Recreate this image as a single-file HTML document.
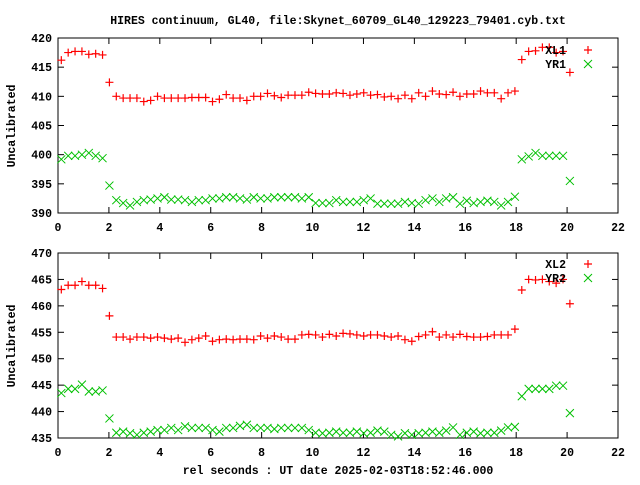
<!DOCTYPE html>
<html><head><meta charset="utf-8"><style>
body{margin:0;background:#fff}
svg text{font-family:"Liberation Mono",monospace;font-weight:bold;font-size:11.5px;fill:#000}
</style></head><body>
<svg id="chart" width="640" height="480" xmlns="http://www.w3.org/2000/svg">
<rect width="640" height="480" fill="#fff"/>
<text x="338" y="24" text-anchor="middle">HIRES continuum, GL40, file:Skynet_60709_GL40_129223_79401.cyb.txt</text>
<text x="338" y="474" text-anchor="middle">rel seconds : UT date 2025-02-03T18:52:46.000</text>
<text transform="translate(15,126) rotate(-90)" text-anchor="middle">Uncalibrated</text>
<text transform="translate(15,346) rotate(-90)" text-anchor="middle">Uncalibrated</text>
<g id="g"></g>
</svg>
<script>
const xTicks=[0,2,4,6,8,10,12,14,16,18,20,22];
const topTicks=[390,395,400,405,410,415,420];
const botTicks=[435,440,445,450,455,460,465,470];
const xl1=[416.2,417.5,417.7,417.7,417.2,417.3,417.1,412.4,410.0,409.7,409.7,409.7,409.1,409.3,410.0,409.7,409.7,409.7,409.7,409.8,409.8,409.8,409.1,409.5,410.3,409.7,409.7,409.3,410.0,410.0,410.5,410.1,409.8,410.2,410.2,410.2,410.7,410.5,410.4,410.4,410.6,410.5,410.2,410.4,410.6,410.2,410.3,409.9,410.0,409.6,410.2,409.6,410.6,410.0,410.9,410.4,410.3,410.7,410.0,410.4,410.4,410.9,410.6,410.6,409.6,410.6,410.9,416.3,417.7,417.8,418.4,418.4,417.5,417.7,414.1];
const yr1=[399.2,399.8,399.8,400.0,400.3,399.8,399.4,394.7,392.2,391.7,391.3,391.9,392.2,392.3,392.5,392.7,392.3,392.3,392.2,391.9,392.2,392.2,392.5,392.5,392.7,392.7,392.5,392.3,392.7,392.5,392.5,392.7,392.7,392.7,392.7,392.5,392.7,391.7,391.7,391.7,392.2,391.9,391.9,391.9,392.2,392.5,391.6,391.6,391.6,391.6,391.9,391.7,391.6,392.2,392.5,391.9,392.5,392.7,391.6,392.1,391.7,391.9,392.1,391.9,391.3,391.9,392.8,399.2,399.7,400.3,399.8,399.8,399.8,399.8,395.5];
const xl2=[463.1,463.9,463.9,464.6,463.9,463.9,463.3,458.1,454.1,454.1,453.7,454.1,454.1,453.9,454.1,453.9,453.7,453.9,453.1,453.6,453.9,454.3,453.3,453.6,453.7,453.6,453.7,453.7,453.6,454.3,453.9,454.3,454.1,453.7,453.7,454.5,454.6,454.5,454.1,454.6,454.3,454.8,454.7,454.5,454.3,454.5,454.5,454.3,454.1,454.3,453.6,453.3,454.2,454.5,455.1,454.1,454.5,454.1,454.6,454.2,454.1,454.1,454.2,454.5,454.5,454.5,455.6,463.0,465.0,464.9,465.0,464.6,464.3,465.0,460.4];
const yr2=[443.5,444.3,444.3,445.1,443.8,443.8,444.0,438.7,436.0,436.2,435.9,435.6,436.0,436.2,436.5,436.5,436.9,436.5,437.2,436.9,436.9,436.9,436.5,436.2,436.9,436.9,437.3,437.5,436.9,436.9,436.9,436.7,436.9,436.9,436.9,436.9,436.5,436.0,435.9,436.0,436.2,436.0,436.0,436.2,435.9,436.0,436.4,436.2,435.6,435.3,435.9,435.6,435.9,436.0,436.2,436.0,436.4,437.0,435.6,436.0,436.2,435.9,436.0,436.0,436.4,437.0,437.1,442.9,444.3,444.3,444.3,444.3,444.9,444.9,439.7];
const NS='http://www.w3.org/2000/svg';
const g=document.getElementById('g');
const L=58,R=618;
function xs(v){return L+(v/22)*(R-L);}
function xv(i){return 0.13+0.27*i;}
function mk(tag,attrs,parent){const e=document.createElementNS(NS,tag);for(const k in attrs)e.setAttribute(k,attrs[k]);(parent||g).appendChild(e);return e;}
function panel(T,B,y0,y1,ticks,s1,s2,n1,n2,legY,pname){
  const ys=v=>B-(v-y0)/(y1-y0)*(B-T);
  const p=mk('g',{});
  
  
  const fr=mk('rect',{x:L,y:T,width:R-L,height:B-T,fill:'none',stroke:'#000','stroke-width':1},p);
  
  
  xTicks.forEach(t=>{const x=xs(t);
    mk('line',{x1:x,x2:x,y1:B,y2:B-6,stroke:'#000'},p);mk('line',{x1:x,x2:x,y1:T,y2:T+6,stroke:'#000'},p);
    const tx=mk('text',{x:x,y:B+18,'text-anchor':'middle'},p);tx.textContent=t;
    
    });
  ticks.forEach(t=>{const y=ys(t);
    mk('line',{x1:L,x2:L+6,y1:y,y2:y,stroke:'#000'},p);mk('line',{x1:R,x2:R-6,y1:y,y2:y,stroke:'#000'},p);
    const tx=mk('text',{x:L-6,y:y+4,'text-anchor':'end'},p);tx.textContent=t;
    
    });
  s1.forEach((v,i)=>{const x=xs(xv(i)),y=ys(v);
    const e=mk('path',{d:`M${x-4} ${y}H${x+4}M${x} ${y-4}V${y+4}`,stroke:'#f00','stroke-width':1.2},p);
    
    });
  s2.forEach((v,i)=>{const x=xs(xv(i)),y=ys(v);
    const e=mk('path',{d:`M${x-4} ${y-4}L${x+4} ${y+4}M${x-4} ${y+4}L${x+4} ${y-4}`,stroke:'#00c000','stroke-width':1},p);
    
    });
  const l1=mk('text',{x:566,y:legY+4,'text-anchor':'end'},p);l1.textContent=n1;
  
  
  const l2=mk('text',{x:566,y:legY+18,'text-anchor':'end'},p);l2.textContent=n2;
  
  
  mk('path',{d:`M584 ${legY}H592M588 ${legY-4}V${legY+4}`,stroke:'#f00','stroke-width':1.2},p);
  mk('path',{d:`M584 ${legY+10}L592 ${legY+18}M584 ${legY+18}L592 ${legY+10}`,stroke:'#00c000'},p);
}
panel(38,213,390,420,topTicks,xl1,yr1,'XL1','YR1',50,'top-panel');
panel(253,438,435,470,botTicks,xl2,yr2,'XL2','YR2',264,'bottom-panel');
</script>
</body></html>
